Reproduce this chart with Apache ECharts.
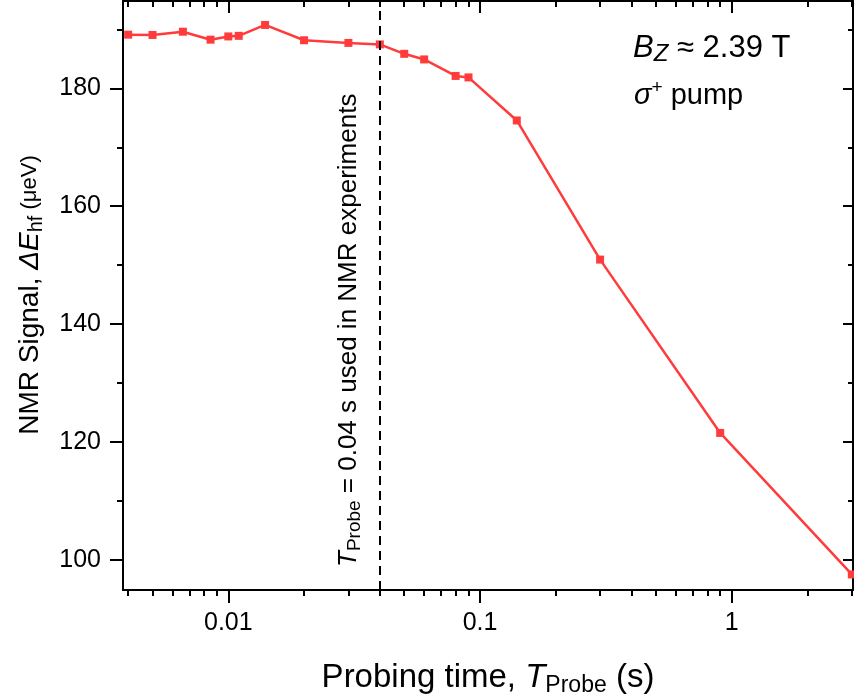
<!DOCTYPE html>
<html><head><meta charset="utf-8">
<script src="https://cdn.jsdelivr.net/npm/echarts@6/dist/echarts.min.js"></script>
<style>html,body{margin:0;padding:0;background:#fff}#c{width:854px;height:700px}</style>
</head><body><div id="c"></div>
<script>
// ---- data ----
const probeTime = [0.004, 0.005, 0.0066, 0.0085, 0.01, 0.011, 0.014, 0.02, 0.03, 0.04, 0.05, 0.06, 0.08, 0.09, 0.14, 0.3, 0.9, 3];
const nmrSignal = [189.1, 189.05, 189.6, 188.25, 188.8, 188.9, 190.75, 188.15, 187.7, 187.45, 185.85, 184.9, 182.1, 181.85, 174.55, 150.95, 121.55, 97.55];
const xMajorTicks = [0.01, 0.1, 1];
const xMinorTicks = [0.004, 0.005, 0.006, 0.007, 0.008, 0.009,
  0.02, 0.03, 0.04, 0.05, 0.06, 0.07, 0.08, 0.09,
  0.2, 0.3, 0.4, 0.5, 0.6, 0.7, 0.8, 0.9, 2, 3];
const yMajorTicks = [100, 120, 140, 160, 180];
const yMinorTicks = [110, 130, 150, 170, 190];
const probeUsed = 0.04;

const FONT = "'Liberation Sans', Arial, Helvetica, sans-serif";
const X_MIN = 0.003816, X_MAX = 3.033;
const Y_MIN = 94.91, Y_MAX = 194.81;
const RED = '#ff3b3b';

function xAxisDef(pos, ticks, len, inside, showLine, showLabel) {
  return {
    type: 'log', position: pos, min: X_MIN, max: X_MAX,
    axisLine: { show: showLine, onZero: false, lineStyle: { color: '#000', width: 2 } },
    axisTick: { show: true, inside: inside, length: len, customValues: ticks, lineStyle: { color: '#000', width: 2 } },
    axisLabel: showLabel ? {
      show: true, customValues: xMajorTicks, margin: 21, color: '#000', fontSize: 25, fontFamily: FONT,
      formatter: v => String(+(+v).toPrecision(6))
    } : { show: false },
    splitLine: { show: false }, minorTick: { show: false }
  };
}
function yAxisDef(pos, ticks, len, inside, showLine, showLabel) {
  return {
    type: 'value', position: pos, min: Y_MIN, max: Y_MAX,
    axisLine: { show: showLine, onZero: false, lineStyle: { color: '#000', width: 2 } },
    axisTick: { show: true, inside: inside, length: len, customValues: ticks, lineStyle: { color: '#000', width: 2 } },
    axisLabel: showLabel ? {
      show: true, customValues: yMajorTicks, margin: 22, color: '#000', fontSize: 25, fontFamily: FONT
    } : { show: false },
    splitLine: { show: false }, minorTick: { show: false }
  };
}

const xAxes = [
  xAxisDef('bottom', xMajorTicks, 13, false, true, true),
  xAxisDef('bottom', xMinorTicks, 6, false, false, false),
  xAxisDef('top', xMajorTicks, 12, true, true, false),
  xAxisDef('top', xMinorTicks, 6, true, false, false)
];
const yAxes = [
  yAxisDef('left', yMajorTicks, 13, false, true, true),
  yAxisDef('left', yMinorTicks, 6, false, false, false),
  yAxisDef('right', yMajorTicks, 10, true, true, false),
  yAxisDef('right', yMinorTicks, 5, true, false, false)
];

const chart = echarts.init(document.getElementById('c'), null, { renderer: 'canvas' });
chart.setOption({
  animation: false,
  backgroundColor: '#fff',
  grid: { left: 123, right: 1, top: 1, bottom: 110, containLabel: false },
  xAxis: xAxes,
  yAxis: yAxes,
  series: [{
    type: 'line', xAxisIndex: 0, yAxisIndex: 0,
    data: probeTime.map((t, i) => [t, nmrSignal[i]]),
    symbol: 'rect', symbolSize: 8, showSymbol: true,
    lineStyle: { color: RED, width: 2.5 },
    itemStyle: { color: RED },
    markLine: {
      silent: true, symbol: 'none', animation: false,
      lineStyle: { color: '#000', type: [9, 6], width: 2 },
      label: { show: false },
      data: [{ xAxis: probeUsed }]
    }
  }],
  graphic: [
    { // x axis title
      type: 'text', x: 488, y: 678,
      style: {
        text: '{t|Probing time, }{it|T}{sub|Probe}{t| (s)}',
        textAlign: 'center', textVerticalAlign: 'middle',
        rich: {
          t: { fontSize: 33, fontFamily: FONT, fill: '#000', lineHeight: 38 },
          it: { fontSize: 33, fontFamily: FONT, fontStyle: 'italic', fill: '#000', lineHeight: 38 },
          sub: { fontSize: 23, fontFamily: FONT, fill: '#000', lineHeight: 22, verticalAlign: 'bottom' }
        }
      }
    },
    { // y axis title
      type: 'text', x: 30, y: 295, rotation: Math.PI / 2,
      style: {
        text: '{t|NMR Signal, }{it|ΔE}{sub|hf}{s| (μeV)}',
        textAlign: 'center', textVerticalAlign: 'middle',
        rich: {
          t: { fontSize: 28, fontFamily: FONT, fill: '#000', lineHeight: 32 },
          it: { fontSize: 28, fontFamily: FONT, fontStyle: 'italic', fill: '#000', lineHeight: 32 },
          sub: { fontSize: 20, fontFamily: FONT, fill: '#000', lineHeight: 20, verticalAlign: 'bottom' },
          s: { fontSize: 22, fontFamily: FONT, fill: '#000', lineHeight: 32 }
        }
      }
    },
    { // vertical annotation
      type: 'text', x: 349, y: 567, rotation: Math.PI / 2,
      style: {
        text: '{it|T}{sub|Probe}{t| = 0.04 s used in NMR experiments}',
        textAlign: 'left', textVerticalAlign: 'middle',
        rich: {
          t: { fontSize: 26, fontFamily: FONT, fill: '#000', lineHeight: 30 },
          it: { fontSize: 26, fontFamily: FONT, fontStyle: 'italic', fill: '#000', lineHeight: 30 },
          sub: { fontSize: 19, fontFamily: FONT, fill: '#000', lineHeight: 19, verticalAlign: 'bottom' }
        }
      }
    },
    {
      type: 'text', x: 633, y: 48,
      style: {
        text: '{it|B}{sub|Z}{t| ≈ 2.39 T}',
        textAlign: 'left', textVerticalAlign: 'middle',
        rich: {
          t: { fontSize: 31, fontFamily: FONT, fill: '#000', lineHeight: 36 },
          it: { fontSize: 31, fontFamily: FONT, fontStyle: 'italic', fill: '#000', lineHeight: 36 },
          sub: { fontSize: 24, fontFamily: FONT, fontStyle: 'italic', fill: '#000', lineHeight: 25, verticalAlign: 'bottom' }
        }
      }
    },
    {
      type: 'text', x: 634, y: 96,
      style: {
        text: '{it|σ}{sup|+}{t| pump}',
        textAlign: 'left', textVerticalAlign: 'middle',
        rich: {
          t: { fontSize: 29, fontFamily: FONT, fill: '#000', lineHeight: 36 },
          it: { fontSize: 29, fontFamily: FONT, fontStyle: 'italic', fill: '#000', lineHeight: 36 },
          sup: { fontSize: 19, fontFamily: FONT, fill: '#000', lineHeight: 19, verticalAlign: 'top' }
        }
      }
    }
  ]
});
</script>
</body></html>
